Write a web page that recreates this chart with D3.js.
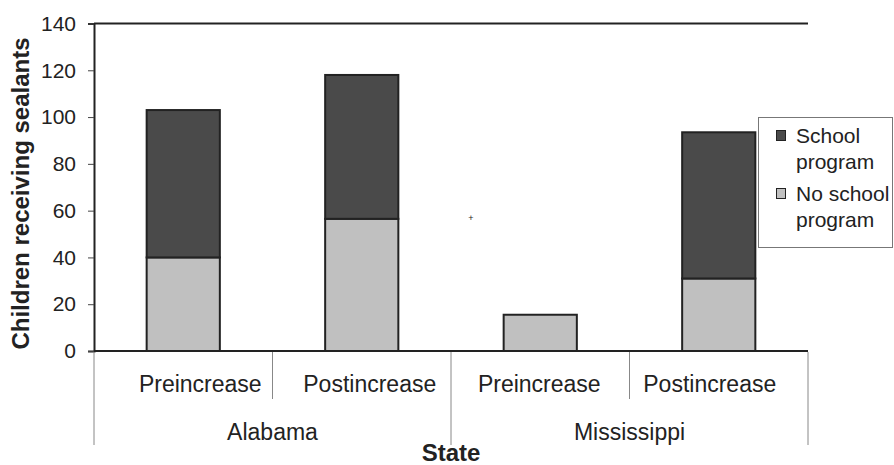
<!DOCTYPE html>
<html><head><meta charset="utf-8">
<script src="https://cdn.jsdelivr.net/npm/d3@7/dist/d3.min.js"></script>
<style>body{margin:0;background:#fff}svg{display:block}text{font-family:"Liberation Sans",Arial,sans-serif;fill:#222}</style>
</head><body><svg id="c" width="894" height="465"></svg>
<script>
const categories = ["Preincrease","Postincrease","Preincrease","Postincrease"];
const states = ["Alabama","Mississippi"];
const noSchool = [40, 56.5, 15.5, 31];
const school = [63, 61.5, 0, 62.5];
const yTicks = [0,20,40,60,80,100,120,140];
const colors = {school:"#4a4a4a", none:"#c0c0c0"};

const svg = d3.select("#c");
const L = 94, R = 808, T = 23.5, B = 351;
const labelShift = [17, 8, -1, -9]; // layout: label offsets within category cells
const y = d3.scaleLinear().domain([0,140]).range([B,T]);
const x = d3.scaleBand().domain(d3.range(categories.length)).range([L,R]).padding(0);
const bw = x.bandwidth()*0.41;

// top border
svg.append("line").attr("x1",L).attr("x2",R).attr("y1",T).attr("y2",T).attr("stroke","#222").attr("stroke-width",2);

// y axis
const ya = svg.append("g").attr("transform",`translate(${L},0)`)
  .call(d3.axisLeft(y).tickValues(yTicks).tickSize(6).tickPadding(12));
ya.select(".domain").attr("stroke","#222").attr("stroke-width",2);
ya.selectAll(".tick line").attr("stroke","#444");
ya.selectAll(".tick text").attr("font-size",21).attr("font-family","Liberation Sans, Arial, sans-serif").attr("fill","#222");

// bars
const rows = categories.map((c,i)=>({i, a:noSchool[i], b:school[i]}));
const g = svg.append("g");
rows.forEach(r=>{
  const x0 = x(r.i)+(x.bandwidth()-bw)/2;
  g.append("rect").attr("x",x0).attr("width",bw).attr("y",y(r.a)).attr("height",y(0)-y(r.a))
    .attr("fill",colors.none).attr("stroke","#222").attr("stroke-width",2);
  if(r.b>0) g.append("rect").attr("x",x0).attr("width",bw).attr("y",y(r.a+r.b)).attr("height",y(r.a)-y(r.a+r.b))
    .attr("fill",colors.school).attr("stroke","#222").attr("stroke-width",2);
});

// x axis line
svg.append("line").attr("x1",L).attr("x2",R).attr("y1",B).attr("y2",B).attr("stroke","#222").attr("stroke-width",2);

// category separators
const sepC = "#888";
for(let i=0;i<=categories.length;i++){
  const xx = i<categories.length ? x(i) : R;
  const outer = (i%2===0);
  svg.append("line").attr("x1",xx).attr("x2",xx).attr("y1",B+1).attr("y2",outer?445:399)
    .attr("stroke",sepC).attr("stroke-width",1);
}
categories.forEach((c,i)=>{
  svg.append("text").attr("x",x(i)+x.bandwidth()/2+labelShift[i]).attr("y",392).attr("text-anchor","middle")
    .attr("font-size",23).text(c);
});
states.forEach((s,j)=>{
  const cx = (x(2*j)+ (2*j+2<categories.length? x(2*j+2):R))/2;
  svg.append("text").attr("x",cx).attr("y",440).attr("text-anchor","middle").attr("font-size",23).text(s);
});

// axis titles
svg.append("text").attr("x",451).attr("y",461).attr("text-anchor","middle").attr("font-size",24).attr("font-weight","bold").text("State");
svg.append("text").attr("transform",`translate(29,193.5) rotate(-90)`).attr("text-anchor","middle")
  .attr("font-size",24).attr("font-weight","bold").text("Children receiving sealants");

// stray mark
svg.append("text").attr("x",471).attr("y",221).attr("text-anchor","middle").attr("font-size",9).text("+");

// legend
const lg = svg.append("g");
lg.append("rect").attr("x",758.5).attr("y",117.5).attr("width",134).attr("height",130).attr("fill","#fff").attr("stroke","#777").attr("stroke-width",1);
const legItems = [{lines:["School","program"],c:colors.school,y0:143},{lines:["No school","program"],c:colors.none,y0:201}];
legItems.forEach(it=>{
  lg.append("rect").attr("x",776.5).attr("y",it.y0-12.5).attr("width",9).attr("height",10).attr("fill",it.c).attr("stroke","#222").attr("stroke-width",1);
  it.lines.forEach((t,k)=>lg.append("text").attr("x",796).attr("y",it.y0+k*25.5).attr("font-size",21).text(t));
});
</script></body></html>
